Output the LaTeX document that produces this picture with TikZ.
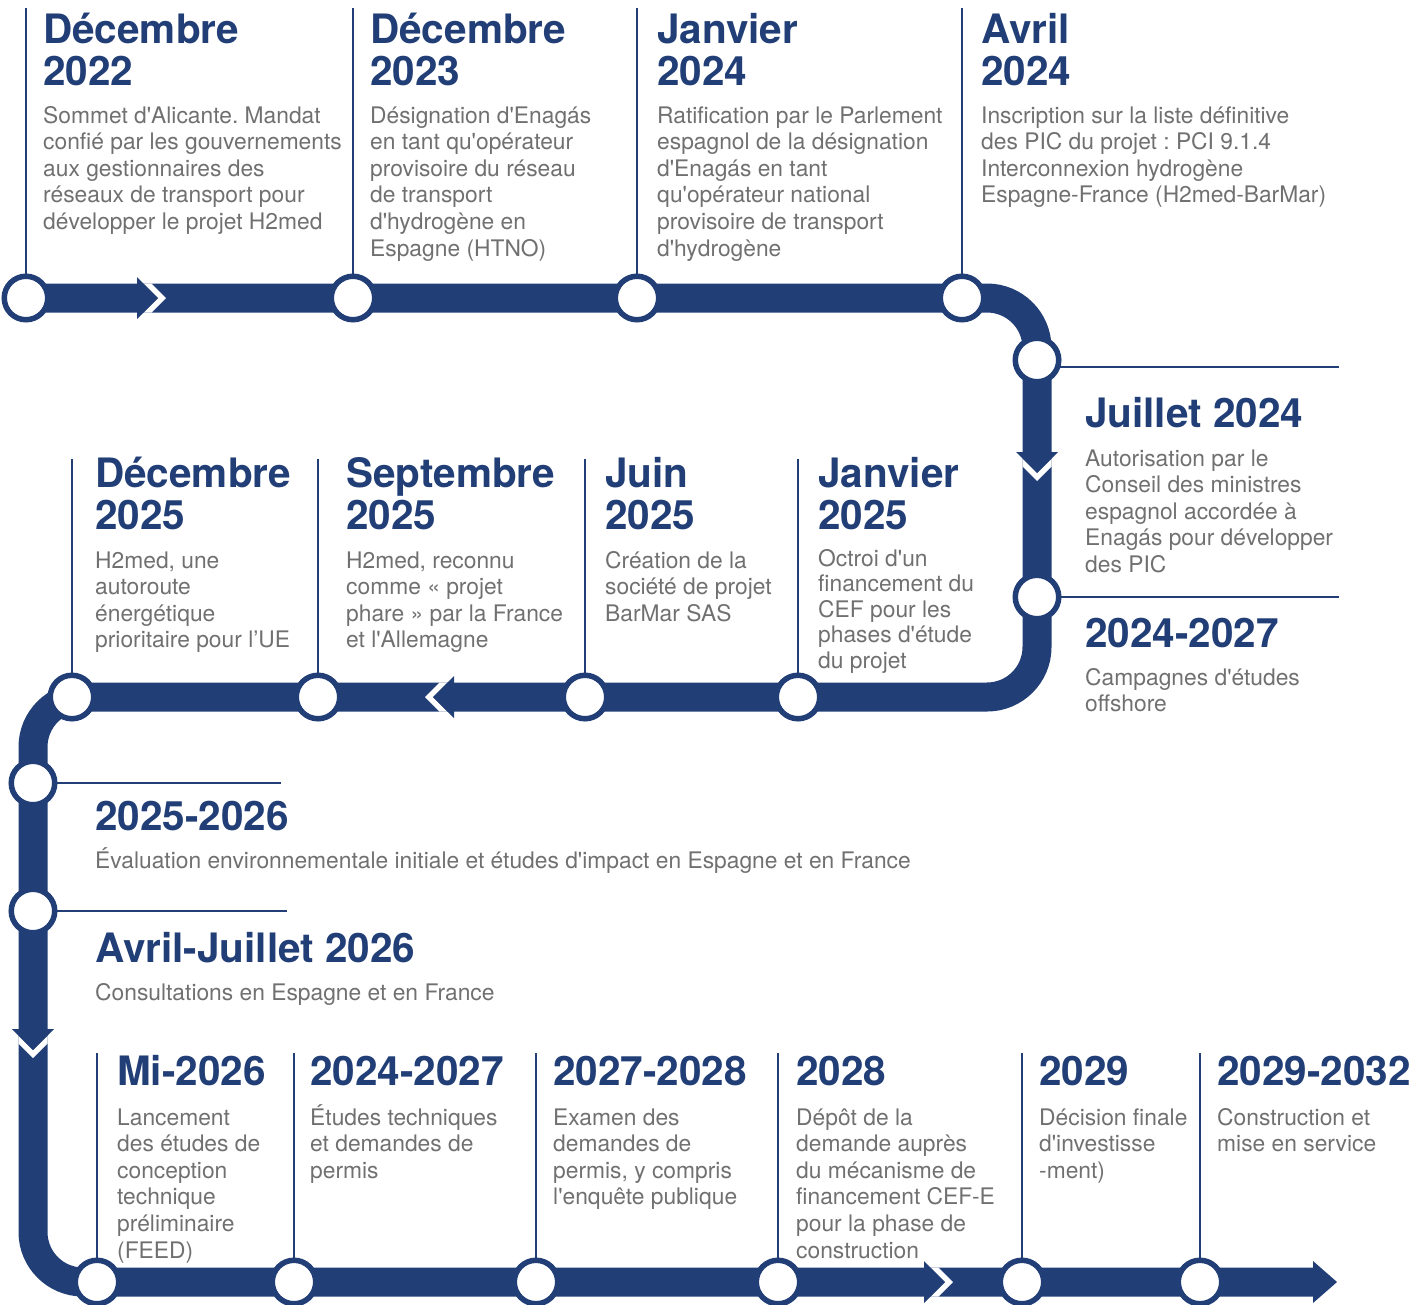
\documentclass[tikz,border=0pt]{standalone}
\usepackage{fontspec}
\setmainfont{TeX Gyre Heros}[Ligatures=TeXOff]
\frenchspacing
\definecolor{h2blue}{RGB}{33,62,118}
\definecolor{h2gray}{RGB}{112,112,112}

% left-aligned lines whose reference point is the first baseline
\newcommand\lns[1]{\vtop{\def\\{\cr}\halign{##\hfil\cr#1\crcr}}}

\tikzset{
  track/.style={draw=h2blue, line width=29pt, rounded corners=50pt},
  milestone/.style={circle, draw=h2blue, line width=5.5pt, fill=white,
    minimum size=43.5pt, inner sep=0pt},
  tick/.style={draw=h2blue, line width=2.6pt},
  ttl/.style={anchor=base west, inner sep=0pt, text=h2blue,
    font=\fontsize{40.5}{42.5}\selectfont\bfseries},
  txt/.style={anchor=base west, inner sep=0pt, text=h2gray,
    font=\fontsize{22.8}{26.6}\selectfont},
}

% chevron breaking the track: tip at (#1,#2), pointing along angle #3
\newcommand\hchevron[3]{%
  \begin{scope}[shift={(#1,#2)}, rotate=#3]
    \fill[white] (-14.5,14.5) -- (0,0) -- (-14.5,-14.5) -- (-6.5,-14.5)
      -- (8,0) -- (-6.5,14.5) -- cycle;
    \fill[h2blue] (-21,21) -- (0,0) -- (-21,-21) -- cycle;
  \end{scope}}

\begin{document}
\begin{tikzpicture}[x=1pt, y=-1pt]
\useasboundingbox (0,0) rectangle (1415,1304);

% milestone positions
\coordinate (p1) at (26,298);   \coordinate (p2) at (353,298);
\coordinate (p3) at (637,298);  \coordinate (p4) at (962,298);
\coordinate (p5) at (1037,360); \coordinate (p6) at (1037,597);
\coordinate (p7) at (798,697);  \coordinate (p8) at (585,697);
\coordinate (p9) at (318,697);  \coordinate (p10) at (72,697);
\coordinate (p11) at (33,783);  \coordinate (p12) at (33,911);
\coordinate (p13) at (97,1282); \coordinate (p14) at (294,1282);
\coordinate (p15) at (536,1282);\coordinate (p16) at (778,1282);
\coordinate (p17) at (1022,1282);\coordinate (p18) at (1200,1282);
\coordinate (end) at (1313,1282);

% the serpentine track
\draw[track] (p1) -- (1037,298) -- (1037,697) -- (33,697) -- (33,1282) -- (end);
\fill[h2blue] (1313,1261) -- (1337,1282) -- (1313,1303) -- cycle;

% direction chevrons
\hchevron{158}{298}{0}
\hchevron{1037}{473}{-90}
\hchevron{433}{697}{180}
\hchevron{33}{1050}{-90}
\hchevron{945}{1282}{0}

% ticks from each milestone to its text
\foreach \p/\top in {p1/8,p2/8,p3/8,p4/8,p7/459,p8/459,p9/459,p10/459,
                    p13/1053,p14/1053,p15/1053,p16/1053,p17/1053,p18/1053}
  \draw[tick] (\p) -- (\p |- 0,\top);
\draw[tick] (p5) -- (1037,367) -- (1339,367);
\draw[tick] (p6) -- (1339,597);
\draw[tick] (p11) -- (281,783);
\draw[tick] (p12) -- (287,911);

% milestone rings
\foreach \i in {1,...,18}
  \node[milestone] (m\i) at (p\i) {};

% top row
\node[ttl] (t1) at (43,43) {\lns{Décembre\\2022}};
\node[txt] (d1) at (43,123) {\lns{Sommet d'Alicante. Mandat\\confié par les gouvernements\\aux gestionnaires des\\réseaux de transport pour\\développer le projet H2med}};
\node[ttl] (t2) at (370,43) {\lns{Décembre\\2023}};
\node[txt] (d2) at (370,123) {\lns{Désignation d'Enagás\\en tant qu'opérateur\\provisoire du réseau\\de transport\\d'hydrogène en\\Espagne (HTNO)}};
\node[ttl] (t3) at (657,43) {\lns{Janvier\\2024}};
\node[txt] (d3) at (657,123) {\lns{Ratification par le Parlement\\espagnol de la désignation\\d'Enagás en tant\\qu'opérateur national\\provisoire de transport\\d'hydrogène}};
\node[ttl] (t4) at (981,43) {\lns{Avril\\2024}};
\node[txt] (d4) at (981,123) {\lns{Inscription sur la liste définitive\\des PIC du projet : PCI 9.1.4\\Interconnexion hydrogène\\Espagne-France (H2med-BarMar)}};

% right side
\node[ttl] (t5) at (1085,427) {Juillet 2024};
\node[txt] (d5) at (1085,466) {\lns{Autorisation par le\\Conseil des ministres\\espagnol accordée à\\Enagás pour développer\\des PIC}};
\node[ttl] (t6) at (1085,647) {2024-2027};
\node[txt] (d6) at (1085,685) {\lns{Campagnes d'études\\offshore}};

% middle row
\node[ttl] (t10) at (95,487) {\lns{Décembre\\2025}};
\node[txt] (d10) at (95,568) {\lns{H2med, une\\autoroute\\énergétique\\prioritaire pour l’UE}};
\node[ttl] (t9) at (346,487) {\lns{Septembre\\2025}};
\node[txt] (d9) at (346,568) {\lns{H2med, reconnu\\comme « projet\\phare » par la France\\et l'Allemagne}};
\node[ttl] (t8) at (605,487) {\lns{Juin\\2025}};
\node[txt] (d8) at (605,568) {\lns{Création de la\\société de projet\\BarMar SAS}};
\node[ttl] (t7) at (818,487) {\lns{Janvier\\2025}};
\node[txt, font=\fontsize{22.8}{25.6}\selectfont] (d7) at (818,566) {\lns{Octroi d'un\\financement du\\CEF pour les\\phases d'étude\\du projet}};

% left side
\node[ttl] (t11) at (95,830) {2025-2026};
\node[txt] (d11) at (95,868) {Évaluation environnementale initiale et études d'impact en Espagne et en France};
\node[ttl] (t12) at (95,962) {Avril-Juillet 2026};
\node[txt] (d12) at (95,1000) {Consultations en Espagne et en France};

% bottom row
\node[ttl] (t13) at (117,1085) {Mi-2026};
\node[txt] (d13) at (117,1125) {\lns{Lancement\\des études de\\conception\\technique\\préliminaire\\(FEED)}};
\node[ttl] (t14) at (310,1085) {2024-2027};
\node[txt] (d14) at (310,1125) {\lns{Études techniques\\et demandes de\\permis}};
\node[ttl] (t15) at (553,1085) {2027-2028};
\node[txt] (d15) at (553,1125) {\lns{Examen des\\demandes de\\permis, y compris\\l'enquête publique}};
\node[ttl] (t16) at (796,1085) {2028};
\node[txt] (d16) at (796,1125) {\lns{Dépôt de la\\demande auprès\\du mécanisme de\\financement CEF-E\\pour la phase de\\construction}};
\node[ttl] (t17) at (1039,1085) {2029};
\node[txt] (d17) at (1039,1125) {\lns{Décision finale\\d'investisse\\-ment)}};
\node[ttl] (t18) at (1217,1085) {2029-2032};
\node[txt] (d18) at (1217,1125) {\lns{Construction et\\mise en service}};
\end{tikzpicture}
\end{document}
